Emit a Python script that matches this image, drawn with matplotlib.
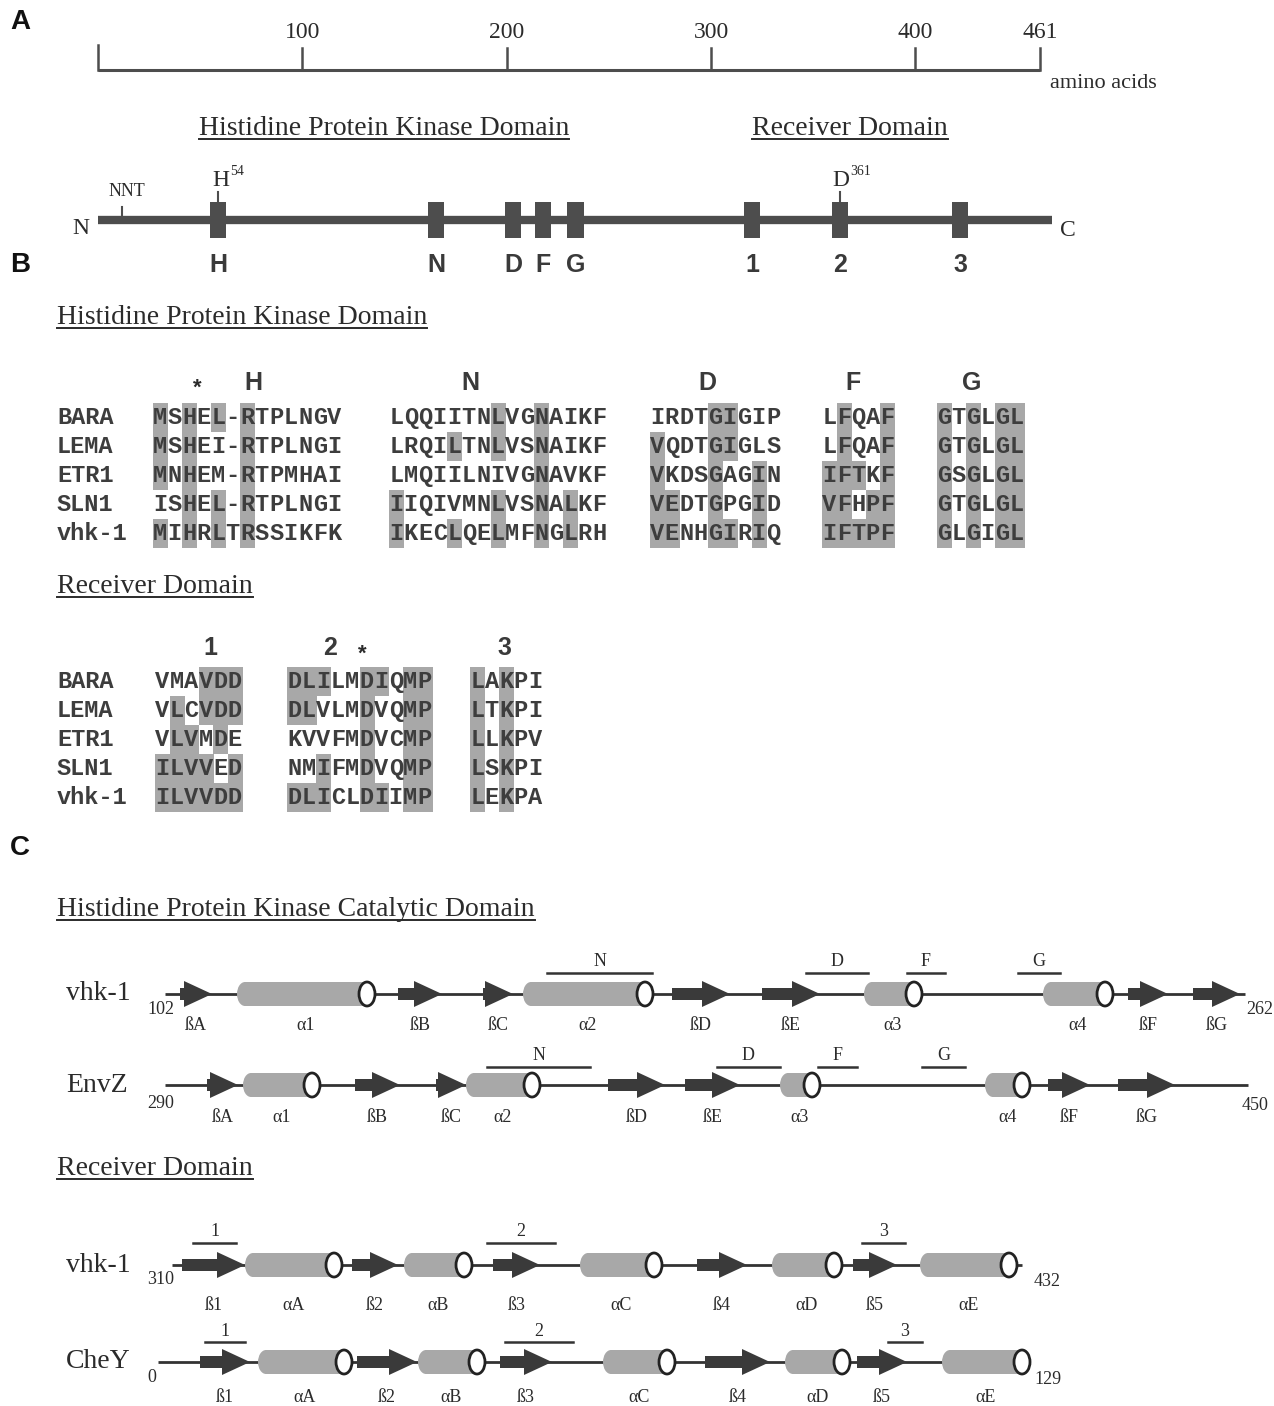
import matplotlib
matplotlib.use("Agg")
import matplotlib.pyplot as plt
from matplotlib.patches import Rectangle, Ellipse, Polygon

W, H = 1274, 1406
SERIF = ["Liberation Serif", "DejaVu Serif"]
SANS = ["Liberation Sans", "DejaVu Sans"]
MONO = ["Liberation Mono", "DejaVu Sans Mono"]
INK = "#2b2b2b"
DARK = "#4d4d4d"
SHADE = "#a8a8a8"
HELIX = "#a8a8a8"

# ---- panel A data (amino acid positions) ----
scale_ticks = [0, 100, 200, 300, 400, 461]
scale_labels = ["", "100", "200", "300", "400", "461"]
protein_end = 467
motif_names = ["H", "N", "D", "F", "G", "1", "2", "3"]
motif_pos = [58.7, 165.4, 203.2, 217.9, 233.6, 320.0, 363.2, 421.9]
nnt_pos = 11.7
his_pos = 58.7
asp_pos = 363.2

# ---- panel B data ----
seq_names = ["BARA", "LEMA", "ETR1", "SLN1", "vhk-1"]

hpk_H = ["MSHEL-RTPLNGV", "MSHEI-RTPLNGI", "MNHEM-RTPMHAI", "ISHEL-RTPLNGI", "MIHRLTRSSIKFK"]
hpk_H_mask = ["X.X.X.X......", "X.X...X......", "X.X...X......", "..X.X.X......", "X.X.X.X......"]
hpk_N = ["LQQIITNLVGNAIKF", "LRQILTNLVSNAIKF", "LMQIILNIVGNAVKF", "IIQIVMNLVSNALKF", "IKECLQELMFNGLRH"]
hpk_N_mask = [".......X..X....", "....X..X..X....", "..........X....", "X......X..X.X..", "X...X..X..X.X.."]
hpk_D = ["IRDTGIGIP", "VQDTGIGLS", "VKDSGAGIN", "VEDTGPGID", "VENHGIRIQ"]
hpk_D_mask = ["....XX...", "X...XX...", "X...X..X.", "XX..X..X.", "XX..XX.X."]
hpk_F = ["LFQAF", "LFQAF", "IFTKF", "VFHPF", "IFTPF"]
hpk_F_mask = [".X..X", ".X..X", "XXX.X", "XX.XX", "XXXXX"]
hpk_G = ["GTGLGL", "GTGLGL", "GSGLGL", "GTGLGL", "GLGIGL"]
hpk_G_mask = ["X.X.XX"] * 5

rec_1 = ["VMAVDD", "VLCVDD", "VLVMDE", "ILVVED", "ILVVDD"]
rec_1_mask = ["...XXX", ".X.XXX", ".XX.X.", "XXXX.X", "XXXXXX"]
rec_2 = ["DLILMDIQMP", "DLVLMDVQMP", "KVVFMDVCMP", "NMIFMDVQMP", "DLICLDIIMP"]
rec_2_mask = ["XXX..XX.XX", "XX...X..XX", ".....X..XX", "..X..X..XX", "XXX..XX.XX"]
rec_3 = ["LAKPI", "LTKPI", "LLKPV", "LSKPI", "LEKPA"]
rec_3_mask = ["X.X.."] * 5

hpk_block_x = [153, 389, 650, 822, 937]
hpk_titles = ["H", "N", "D", "F", "G"]
hpk_title_x = [253, 470, 707, 853, 972]
rec_block_x = [155, 287, 470]
rec_titles = ["1", "2", "3"]
rec_title_x = [210, 330, 504]

# ---- panel C data: (kind, start, end); b = strand, a = helix ----
c1_kind = ["b", "a", "b", "b", "a", "b", "b", "a", "a", "b", "b"]
c1_x0 = [180, 237, 398, 483, 523, 672, 762, 864, 1043, 1128, 1193]
c1_x1 = [212, 375, 442, 513, 653, 730, 820, 922, 1113, 1168, 1240]
c1_name = ["ßA", "α1", "ßB", "ßC", "α2", "ßD", "ßE", "α3", "α4", "ßF", "ßG"]
c1_bar = ["N", "D", "F", "G"]
c1_bar_x0 = [547, 806, 907, 1018]
c1_bar_x1 = [652, 868, 945, 1060]

c2_kind = ["b", "a", "b", "b", "a", "b", "b", "a", "a", "b", "b"]
c2_x0 = [207, 243, 355, 436, 466, 608, 685, 780, 985, 1048, 1118]
c2_x1 = [238, 320, 400, 466, 540, 665, 740, 820, 1030, 1090, 1175]
c2_name = ["ßA", "α1", "ßB", "ßC", "α2", "ßD", "ßE", "α3", "α4", "ßF", "ßG"]
c2_bar = ["N", "D", "F", "G"]
c2_bar_x0 = [487, 717, 818, 922]
c2_bar_x1 = [590, 780, 857, 965]

c3_kind = ["b", "a", "b", "a", "b", "a", "b", "a", "b", "a"]
c3_x0 = [182, 245, 352, 404, 493, 580, 697, 772, 853, 920]
c3_x1 = [245, 342, 398, 472, 540, 662, 747, 842, 897, 1017]
c3_name = ["ß1", "αA", "ß2", "αB", "ß3", "αC", "ß4", "αD", "ß5", "αE"]
c3_bar = ["1", "2", "3"]
c3_bar_x0 = [193, 487, 862]
c3_bar_x1 = [236, 555, 905]

c4_kind = ["b", "a", "b", "a", "b", "a", "b", "a", "b", "a"]
c4_x0 = [200, 258, 357, 418, 500, 603, 705, 785, 857, 942]
c4_x1 = [250, 352, 417, 485, 552, 675, 770, 850, 907, 1030]
c4_name = ["ß1", "αA", "ß2", "αB", "ß3", "αC", "ß4", "αD", "ß5", "αE"]
c4_bar = ["1", "2", "3"]
c4_bar_x0 = [205, 505, 888]
c4_bar_x1 = [245, 573, 922]

fig = plt.figure(figsize=(W / 100, H / 100), dpi=100)
fig.patch.set_facecolor("white")
ax = fig.add_axes([0, 0, 1, 1])
ax.set_xlim(0, W)
ax.set_ylim(H, 0)
ax.axis("off")

# axes in amino-acid units for panel A
ax_a = fig.add_axes([98 / W, 0, 942 / W, 1])
ax_a.set_xlim(0, 461)
ax_a.set_ylim(H, 0)
ax_a.axis("off")
ax_a.patch.set_alpha(0)

underlined = []


def heading(x, y, s, ha="left", target=None):
    a = target if target is not None else ax
    t = a.text(x, y, s, ha=ha, va="baseline", fontsize=20, family=SERIF, color=INK)
    underlined.append((a, t, y + 4))


def panel_letter(y, s):
    ax.text(10, y, s, ha="left", va="center", fontsize=20, family=SANS,
            fontweight="bold", color="#111111")


# ================= panel A =================
panel_letter(22, "A")
ax_a.plot([0, 461], [70, 70], color=DARK, lw=2.2, solid_capstyle="butt", clip_on=False)
for t, lab in zip(scale_ticks, scale_labels):
    top = 45 if t == 0 else 48
    ax_a.plot([t, t], [70, top], color=DARK, lw=1.8, clip_on=False)
    if lab:
        ax_a.text(t, 33, lab, ha="center", va="center", fontsize=17, family=SERIF, color=INK)
ax_a.text(466, 84, "amino acids", ha="left", va="center", fontsize=16, family=SERIF,
          color=INK, clip_on=False)

heading(140, 135, "Histidine Protein Kinase Domain", ha="center", target=ax_a)
heading(368, 135, "Receiver Domain", ha="center", target=ax_a)

ax_a.plot([0, protein_end], [220, 220], color=DARK, lw=6, solid_capstyle="butt", clip_on=False)
for name, p in zip(motif_names, motif_pos):
    ax_a.add_patch(Rectangle((p - 4, 202), 8, 36, facecolor=DARK, edgecolor="none",
                             clip_on=False, zorder=3))
    ax_a.text(p, 265, name, ha="center", va="center", fontsize=18, family=SANS,
              fontweight="bold", color="#3a3a3a", clip_on=False)
ax_a.text(-4, 228, "N", ha="right", va="center", fontsize=17, family=SERIF, color=INK, clip_on=False)
ax_a.text(protein_end + 4, 230, "C", ha="left", va="center", fontsize=17, family=SERIF,
          color=INK, clip_on=False)
ax_a.plot([nnt_pos, nnt_pos], [207, 216], color=DARK, lw=1.5)
ax_a.text(nnt_pos + 2.5, 192, "NNT", ha="center", va="center", fontsize=13, family=SERIF, color=INK)
ax_a.plot([his_pos, his_pos], [192, 202], color=DARK, lw=1.5)
ax_a.text(his_pos + 5.5, 186, "H", ha="right", va="baseline", fontsize=17, family=SERIF, color=INK)
ax_a.text(his_pos + 5.8, 175, "54", ha="left", va="baseline", fontsize=10, family=SERIF, color=INK)
ax_a.plot([asp_pos, asp_pos], [192, 202], color=DARK, lw=1.5)
ax_a.text(asp_pos + 4.5, 186, "D", ha="right", va="baseline", fontsize=17, family=SERIF, color=INK)
ax_a.text(asp_pos + 4.8, 175, "361", ha="left", va="baseline", fontsize=10, family=SERIF, color=INK)

# ================= panel B =================
panel_letter(265, "B")
CW = 14.5
ROW_H = 29


def alignment(row_y0, block_x, blocks, masks):
    for i, name in enumerate(seq_names):
        ax.text(57, row_y0 + i * ROW_H + 7, name, ha="left", va="baseline", fontsize=17,
                family=MONO, fontweight="bold", color="#3d3d3d")
    for bx, seqs, mask in zip(block_x, blocks, masks):
        for i, (s, m) in enumerate(zip(seqs, mask)):
            y = row_y0 + i * ROW_H
            for j, (ch, mk) in enumerate(zip(s, m)):
                if mk == "X":
                    ax.add_patch(Rectangle((bx + j * CW, y - ROW_H / 2), CW + 0.6, ROW_H + 0.6,
                                           facecolor=SHADE, edgecolor="none", zorder=1))
                ax.text(bx + (j + 0.5) * CW, y + 7, ch, ha="center", va="baseline", fontsize=17,
                        family=MONO, fontweight="bold", color="#3d3d3d", zorder=2)


heading(57, 324, "Histidine Protein Kinase Domain")
ax.text(197, 388, "*", ha="center", va="center", fontsize=16, family=SANS, fontweight="bold", color=INK)
for t, x in zip(hpk_titles, hpk_title_x):
    ax.text(x, 383, t, ha="center", va="center", fontsize=18, family=SANS, fontweight="bold", color="#3a3a3a")
alignment(417, hpk_block_x, [hpk_H, hpk_N, hpk_D, hpk_F, hpk_G],
          [hpk_H_mask, hpk_N_mask, hpk_D_mask, hpk_F_mask, hpk_G_mask])

heading(57, 593, "Receiver Domain")
ax.text(362, 654, "*", ha="center", va="center", fontsize=16, family=SANS, fontweight="bold", color=INK)
for t, x in zip(rec_titles, rec_title_x):
    ax.text(x, 648, t, ha="center", va="center", fontsize=18, family=SANS, fontweight="bold", color="#3a3a3a")
alignment(681, rec_block_x, [rec_1, rec_2, rec_3], [rec_1_mask, rec_2_mask, rec_3_mask])

# ================= panel C =================
panel_letter(848, "C")
heading(57, 916, "Histidine Protein Kinase Catalytic Domain")
heading(57, 1175, "Receiver Domain")


def strand(x0, x1, y):
    head = min(28, x1 - x0)
    if x1 - x0 > head:
        ax.add_patch(Rectangle((x0, y - 6), x1 - x0 - head + 1, 12, facecolor="#3a3a3a",
                               edgecolor="none", zorder=3))
    ax.add_patch(Polygon([(x1 - head, y - 13), (x1, y), (x1 - head, y + 13)], closed=True,
                         facecolor="#3a3a3a", edgecolor="none", zorder=3))


def helix(x0, x1, y):
    h = 24
    e = 16
    ax.add_patch(Ellipse((x0 + e / 2, y), e, h, facecolor=HELIX, edgecolor="none", zorder=3))
    ax.add_patch(Rectangle((x0 + e / 2, y - h / 2), x1 - x0 - e, h, facecolor=HELIX,
                           edgecolor="none", zorder=3))
    ax.add_patch(Ellipse((x1 - e / 2, y), e, h, facecolor="white", edgecolor="#222222",
                         lw=2, zorder=4))


def topo_row(y, name, n_start, n_end, line_x0, line_x1, kinds, x0s, x1s, names,
             bars, bar_x0s, bar_x1s, start_xy, end_xy, lab_dy, bar_dy):
    ax.text(66, y, name, ha="left", va="center", fontsize=20, family=SERIF, color=INK)
    ax.plot([line_x0, line_x1], [y, y], color="#333333", lw=2, zorder=2, solid_capstyle="butt")
    ax.text(start_xy[0], start_xy[1], n_start, ha="left", va="center", fontsize=13,
            family=SERIF, color=INK)
    ax.text(end_xy[0], end_xy[1], n_end, ha="left", va="center", fontsize=13,
            family=SERIF, color=INK)
    for k, a, b, nm in zip(kinds, x0s, x1s, names):
        if k == "b":
            strand(a, b, y)
        else:
            helix(a, b, y)
        ax.text((a + b) / 2, y + lab_dy, nm, ha="center", va="center", fontsize=13,
                family=SERIF, color=INK)
    for nm, a, b in zip(bars, bar_x0s, bar_x1s):
        ax.plot([a, b], [y - bar_dy, y - bar_dy], color="#333333", lw=1.8)
        ax.text((a + b) / 2, y - bar_dy - 11, nm, ha="center", va="center", fontsize=13,
                family=SERIF, color=INK)


topo_row(994, "vhk-1", "102", "262", 165, 1245, c1_kind, c1_x0, c1_x1, c1_name,
         c1_bar, c1_bar_x0, c1_bar_x1, (147, 1010), (1246, 1010), 31, 21)
topo_row(1085, "EnvZ", "290", "450", 165, 1248, c2_kind, c2_x0, c2_x1, c2_name,
         c2_bar, c2_bar_x0, c2_bar_x1, (147, 1104), (1242, 1106), 33, 18)
topo_row(1265, "vhk-1", "310", "432", 172, 1022, c3_kind, c3_x0, c3_x1, c3_name,
         c3_bar, c3_bar_x0, c3_bar_x1, (147, 1280), (1034, 1282), 40, 22)
topo_row(1362, "CheY", "0", "129", 158, 1030, c4_kind, c4_x0, c4_x1, c4_name,
         c4_bar, c4_bar_x0, c4_bar_x1, (147, 1378), (1034, 1379), 36, 20)

# underline headings using the rendered text extent
fig.canvas.draw()
renderer = fig.canvas.get_renderer()
for a, t, uy in underlined:
    bb = t.get_window_extent(renderer)
    inv = a.transData.inverted()
    (xa, _), (xb, _) = inv.transform([(bb.x0, bb.y0), (bb.x1, bb.y0)])
    a.plot([xa, xb], [uy, uy], color=INK, lw=1.4, clip_on=False)

fig.savefig("out.png", dpi=100, facecolor="white")
